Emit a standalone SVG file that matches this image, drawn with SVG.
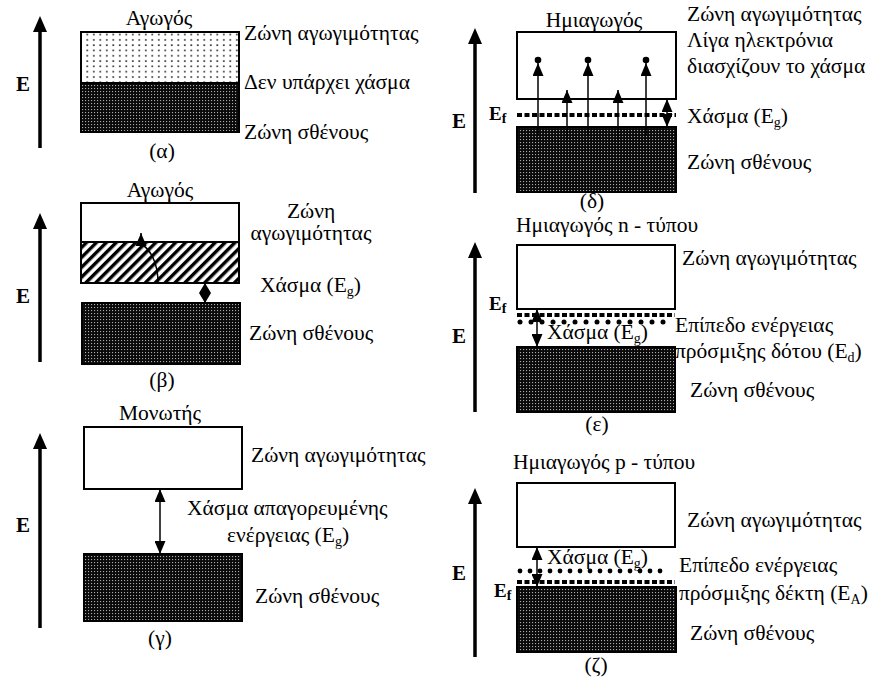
<svg xmlns="http://www.w3.org/2000/svg" width="882" height="688" viewBox="0 0 882 688">
<defs>
<style>
text{font-family:"Liberation Serif","DejaVu Serif",serif;font-size:21.5px;fill:#000}
.c{text-anchor:middle}
.E{font-weight:bold;font-size:21px}
.Ef{font-weight:bold;font-size:19px}
.sub{font-size:14px}
.box{fill:#fff;stroke:#000;stroke-width:2}
.val{fill:url(#dark);stroke:#000;stroke-width:2}
.axis{stroke:#000;stroke-width:3.5;fill:none;marker-end:url(#ax)}
.arr{stroke:#000;stroke-width:1.5;fill:none;marker-end:url(#ah)}
.darr{stroke:#000;stroke-width:1.5;fill:none;marker-start:url(#ah);marker-end:url(#ah)}
.dash{stroke:#000;stroke-width:4;stroke-dasharray:5 2.5;fill:none}
.dot{fill:#000}
</style>
<pattern id="dark" width="3" height="3" patternUnits="userSpaceOnUse">
<rect width="3" height="3" fill="#0a0a0a"/>
<rect x="1" y="1" width="1.1" height="1.1" fill="#aaa"/>
</pattern>
<pattern id="dots" width="6.5" height="5.3" patternUnits="userSpaceOnUse">
<rect width="6.5" height="5.3" fill="#fff"/>
<rect x="2" y="2" width="1.6" height="1.6" fill="#222"/>
</pattern>
<pattern id="hatch" width="7" height="10" patternUnits="userSpaceOnUse" patternTransform="rotate(45)">
<rect width="7" height="10" fill="#fff"/>
<rect width="3.4" height="10" fill="#000"/>
</pattern>
<marker id="ax" viewBox="0 0 16 14" markerWidth="16" markerHeight="14" refX="1" refY="7" orient="auto" markerUnits="userSpaceOnUse">
<path d="M0,0 L16,7 L0,14 z" fill="#000"/>
</marker>
<marker id="ah" viewBox="0 0 13 11" markerWidth="13" markerHeight="11" refX="13" refY="5.5" orient="auto-start-reverse" markerUnits="userSpaceOnUse">
<path d="M0,0 L13,5.5 L0,11 z" fill="#000"/>
</marker>
<marker id="ahs" viewBox="0 0 10 12" markerWidth="10" markerHeight="12" refX="10" refY="6" orient="auto-start-reverse" markerUnits="userSpaceOnUse">
<path d="M0,0 L10,6 L0,12 z" fill="#000"/>
</marker>
</defs>
<rect width="882" height="688" fill="#fff"/>

<!-- Panel alpha -->
<g id="panel-a">
<text class="c" x="159" y="25">Αγωγός</text>
<rect x="81" y="32" width="158" height="51" fill="url(#dots)" stroke="#000" stroke-width="2"/>
<rect x="81" y="83" width="158" height="49" class="val"/>
<text class="E" x="16" y="91">E</text>
<text x="244" y="40">Ζώνη αγωγιμότητας</text>
<text x="244" y="89">Δεν υπάρχει χάσμα</text>
<text x="244" y="139">Ζώνη σθένους</text>
<text class="c" x="162" y="158">(α)</text>
</g>

<!-- Panel beta -->
<g id="panel-b">
<text class="c" x="160" y="197">Αγωγός</text>
<rect x="81" y="203" width="158" height="39" fill="#fff"/>
<rect x="81" y="242" width="158" height="41" fill="url(#hatch)"/>
<rect x="81" y="203" width="158" height="80" fill="none" stroke="#000" stroke-width="2"/>
<line x1="81" y1="242" x2="239" y2="242" stroke="#000" stroke-width="2"/>
<rect x="82" y="303" width="158" height="61" class="val"/>
<text class="E" x="16" y="303">E</text>
<text class="c" x="311" y="218">Ζώνη</text>
<text class="c" x="311" y="240">αγωγιμότητας</text>
<text x="260" y="292">Χάσμα (E<tspan class="sub" dy="4">g</tspan><tspan dy="-4">)</tspan></text>
<text x="249" y="340">Ζώνη σθένους</text>
<text class="c" x="162" y="387">(β)</text>
</g>

<!-- Panel gamma -->
<g id="panel-c">
<text class="c" x="160" y="420">Μονωτής</text>
<rect x="84" y="427" width="158" height="62" class="box"/>
<rect x="84" y="554" width="158" height="67" class="val"/>
<text class="E" x="16" y="532">E</text>
<text x="251" y="462">Ζώνη αγωγιμότητας</text>
<text x="187" y="515">Χάσμα απαγορευμένης</text>
<text x="227" y="542">ενέργειας (E<tspan class="sub" dy="4">g</tspan><tspan dy="-4">)</tspan></text>
<text x="255" y="603">Ζώνη σθένους</text>
<text class="c" x="160" y="645">(γ)</text>
</g>

<!-- Panel delta -->
<g id="panel-d">
<text class="c" x="594" y="27">Ημιαγωγός</text>
<rect x="517" y="32" width="159" height="67" class="box"/>
<rect x="517" y="127" width="159" height="65" class="val"/>
<line x1="517" y1="115" x2="676" y2="115" class="dash"/>
<circle class="dot" cx="538" cy="60" r="3.3"/>
<circle class="dot" cx="588" cy="60" r="3.3"/>
<circle class="dot" cx="646" cy="60" r="3.3"/>
<text class="E" x="452" y="128">E</text>
<text class="Ef" x="489" y="120">E<tspan class="sub" dy="3">f</tspan></text>
<text x="687" y="21">Ζώνη αγωγιμότητας</text>
<text x="687" y="47">Λίγα ηλεκτρόνια</text>
<text x="687" y="73">διασχίζουν το χάσμα</text>
<text x="687" y="123">Χάσμα (E<tspan class="sub" dy="4">g</tspan><tspan dy="-4">)</tspan></text>
<text x="687" y="169">Ζώνη σθένους</text>
<text class="c" x="592" y="208">(δ)</text>
</g>

<!-- Panel epsilon -->
<g id="panel-e">
<text x="516" y="232">Ημιαγωγός n - τύπου</text>
<rect x="517" y="245" width="158" height="64" class="box"/>
<rect x="517" y="347" width="158" height="65" class="val"/>
<line x1="517" y1="315" x2="675" y2="315" class="dash"/>
<g class="dot">
<circle cx="520" cy="322" r="2.5"/><circle cx="531" cy="322" r="2.5"/><circle cx="542" cy="322" r="2.5"/><circle cx="553" cy="322" r="2.5"/><circle cx="564" cy="322" r="2.5"/><circle cx="575" cy="322" r="2.5"/><circle cx="586" cy="322" r="2.5"/><circle cx="597" cy="322" r="2.5"/><circle cx="608" cy="322" r="2.5"/><circle cx="619" cy="322" r="2.5"/><circle cx="630" cy="322" r="2.5"/><circle cx="641" cy="322" r="2.5"/><circle cx="652" cy="322" r="2.5"/><circle cx="663" cy="322" r="2.5"/>
</g>
<text class="E" x="452" y="343">E</text>
<text class="Ef" x="489" y="310">E<tspan class="sub" dy="3">f</tspan></text>
<text x="682" y="265">Ζώνη αγωγιμότητας</text>
<text x="675" y="332">Επίπεδο ενέργειας</text>
<text x="547" y="339">Χάσμα (E<tspan class="sub" dy="4">g</tspan><tspan dy="-4">)</tspan></text>
<text x="675" y="358">πρόσμιξης δότου (E<tspan class="sub" dy="4">d</tspan><tspan dy="-4">)</tspan></text>
<text x="690" y="397">Ζώνη σθένους</text>
<text class="c" x="597" y="431">(ε)</text>
</g>

<!-- Panel zeta -->
<g id="panel-f">
<text x="513" y="469">Ημιαγωγός p - τύπου</text>
<rect x="517" y="483" width="158" height="64" class="box"/>
<rect x="517" y="587" width="159" height="65" class="val"/>
<g class="dot">
<circle cx="520" cy="571" r="2.4"/><circle cx="530" cy="571" r="2.4"/><circle cx="540" cy="571" r="2.4"/><circle cx="550" cy="571" r="2.4"/><circle cx="560" cy="571" r="2.4"/><circle cx="570" cy="571" r="2.4"/><circle cx="580" cy="571" r="2.4"/><circle cx="590" cy="571" r="2.4"/><circle cx="600" cy="571" r="2.4"/><circle cx="610" cy="571" r="2.4"/><circle cx="620" cy="571" r="2.4"/><circle cx="630" cy="571" r="2.4"/><circle cx="640" cy="571" r="2.4"/><circle cx="650" cy="571" r="2.4"/><circle cx="660" cy="571" r="2.4"/>
</g>
<line x1="517" y1="582" x2="675" y2="582" class="dash"/>
<text class="E" x="452" y="580">E</text>
<text class="Ef" x="494" y="597">E<tspan class="sub" dy="3">f</tspan></text>
<text x="687" y="527">Ζώνη αγωγιμότητας</text>
<text x="547" y="564">Χάσμα (E<tspan class="sub" dy="4">g</tspan><tspan dy="-4">)</tspan></text>
<text x="679" y="572">Επίπεδο ενέργειας</text>
<text x="679" y="600">πρόσμιξης δέκτη (E<tspan class="sub" dy="4">A</tspan><tspan dy="-4">)</tspan></text>
<text x="690" y="640">Ζώνη σθένους</text>
<text class="c" x="596" y="672">(ζ)</text>
</g>

<!-- Connectors -->
<g id="connectors">
<line class="axis" x1="40" y1="148" x2="40" y2="31"/>
<line class="axis" x1="40" y1="362" x2="40" y2="228"/>
<line class="axis" x1="40" y1="628" x2="40" y2="448"/>
<line class="axis" x1="475" y1="193" x2="475" y2="43"/>
<line class="axis" x1="475" y1="412" x2="475" y2="257"/>
<line class="axis" x1="475" y1="657" x2="475" y2="503"/>
<path class="arr" d="M158,283 C158,262 150,249 141,244 L141,233"/>
<line x1="205" y1="283" x2="205" y2="303" stroke="#000" stroke-width="1.5" marker-start="url(#ahs)" marker-end="url(#ahs)"/>
<line class="darr" x1="160" y1="489" x2="160" y2="554"/>
<line class="arr" x1="538" y1="135" x2="538" y2="63"/>
<line class="arr" x1="588" y1="135" x2="588" y2="63"/>
<line class="arr" x1="646" y1="135" x2="646" y2="63"/>
<line class="arr" x1="567" y1="140" x2="567" y2="90"/>
<line class="arr" x1="618" y1="140" x2="618" y2="90"/>
<line class="darr" x1="667" y1="99" x2="667" y2="127"/>
<line class="darr" x1="537" y1="309" x2="537" y2="347"/>
<line class="darr" x1="537" y1="547" x2="537" y2="587"/>
</g>
</svg>
